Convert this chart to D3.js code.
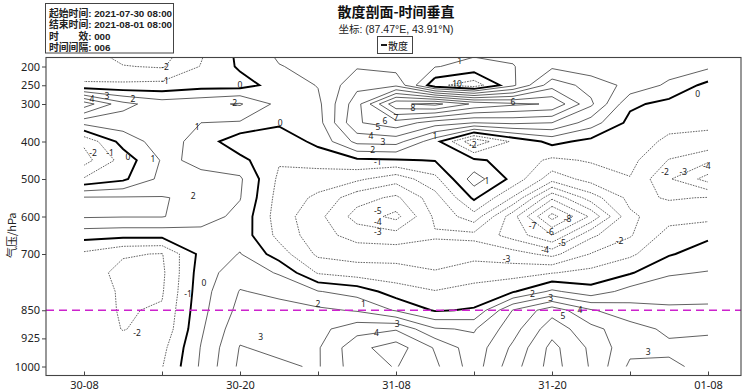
<!DOCTYPE html>
<html><head><meta charset="utf-8">
<script src="https://cdn.jsdelivr.net/npm/d3@7"></script>
<style>body{margin:0;background:#fff}svg{display:block}</style>
</head><body>
<svg id="chart" width="744" height="392"></svg>
<script>
// ---------------- DATA ----------------
// grid columns: hours after 2021-07-30 08:00 (every 3 h)
const hours = [0,3,6,9,12,15,18,21,24,27,30,33,36,39,42,45,48];
// grid rows: pressure levels (hPa)
const levels = [150,200,250,300,350,400,450,500,550,600,650,700,750,800,850,900,950,1000];
// divergence values per level (1e-5 s^-1), one value per column
const d150  = [-1.8,-2.6,-2.7,-1.2,0.3,1.3,1.5,1.7,1.6,1.5,1.3,1.3,0.8,1.0,2.0,2.2,2.2];
const d200  = [-1.4,-1.95,-2.1,-0.95,0.15,0.95,1.3,1.9,1.6,1.05,0.7,0.95,1.8,1.4,1.6,1.5,1.2];
const d250  = [-0.9,-0.8,-0.7,-0.4,-0.4,0.4,1.05,2.7,2.8,-0.7,-1.6,0.8,3.6,2.6,1.7,0.8,-0.3];
const d300  = [4.6,2.3,1.5,1.7,2.1,0.7,0.75,3.6,7.8,8.3,6.8,6.2,5.9,3.2,0.2,-0.3,-0.3];
const d350  = [1.3,1.5,1.8,1.0,0.9,0.15,0.6,3.9,4.6,3.5,3.0,3.2,3.0,1.5,-0.3,-0.7,-0.8];
const d400  = [-1.8,0.4,1.5,0.6,-0.7,-0.6,0.25,2.3,2.4,0.4,-2.8,-0.8,0.3,-0.3,-0.5,-1.2,-1.3];
const d450  = [-2.4,-0.6,1.1,0.9,0.3,-0.9,-0.6,-0.2,-0.1,0.05,0.2,-0.4,-1.2,-0.9,-0.7,-2.05,-2.8];
const d500  = [-0.9,-0.2,1.3,1.1,1.15,-1.2,-1.5,-1.8,-2.6,-1.3,1.5,-0.3,-2.6,-1.6,-1.05,-2.9,-4.4];
const d550  = [2.1,2.1,2.05,1.8,1.05,-1.4,-2.2,-3.6,-4.2,-2.4,0.2,-2.1,-5.8,-3.5,-1.7,-2.1,-1.95];
const d600  = [2.1,2.05,2.05,1.5,0.7,-1.5,-2.7,-4.4,-5.3,-2.8,-1.4,-4.6,-8.4,-5.8,-2.2,-1.4,-1.3];
const d650  = [0.4,0.3,0.3,0.6,0.6,-1.3,-2.6,-3.4,-3.6,-3.1,-3.3,-4.4,-6.0,-3.2,-2.1,-0.6,-0.2];
const d700  = [-1.2,-1.9,-2.05,0.3,1.05,-0.5,-2.2,-2.4,-2.4,-2.6,-2.3,-2.6,-3.3,-1.95,-1.2,-0.1,0.5];
const d750  = [-1.5,-2.3,-2.2,0.5,1.6,0.9,-1.1,-1.5,-1.6,-1.9,-1.5,-1.4,-1.05,-0.7,-0.1,0.9,1.05];
const d800  = [-1.6,-2.1,-2.1,0.6,2.05,1.8,1.05,0.6,-0.5,-0.95,-0.6,-0.1,1.2,0.4,1.4,1.5,1.6];
const d850  = [-1.6,-2.08,-1.9,0.7,2.3,2.3,2.2,1.9,0.9,-0.1,0.1,3.05,4.6,3.1,2.4,2.2,2.2];
const d900  = [-1.5,-2.03,-1.75,0.85,2.7,2.6,2.7,3.6,3.9,2.1,1.9,3.6,5.6,4.3,3.4,2.8,2.9];
const d950  = [-1.4,-1.7,-1.3,1.05,3.05,2.8,2.9,4.7,5.5,3.9,2.4,4.2,6.3,4.8,3.3,3.2,3.2];
const d1000 = [-1.4,-1.5,-1.05,1.15,3.2,3.15,2.9,4.6,5.05,4.2,2.5,4.6,6.4,4.9,2.8,2.8,3.3];
const grid = [d150,d200,d250,d300,d350,d400,d450,d500,d550,d600,d650,d700,d750,d800,d850,d900,d950,d1000];

// axis ticks
const xTickHours  = [0,6,12,18,24,30,36,42,48];
const xTickLabels = ["30-08","","30-20","","31-08","","31-20","","01-08"];
const yTickLevels = [200,250,300,400,500,600,700,850,925,1000];
const refLevel = 850;

// contour labels: [hour, hPa, text]
const labelHours = [6.23,6.23,12,0.62,1.77,3.77,11.6,15.1,8.7,0.69,2.0,3.38,5.3,8.4,9.23,8.0,4.08,13.6,18,21.5,24.1,22.5,22.6,
  25.3,24,23.15,22.62,22.08,23.0,22.2,27,33,28.7,28.9,29.9,31,22.6,22.6,22.6,37.2,34.5,35.85,36.77,35.46,32.5,41.2,34.5,35.9,38.15,36.85,43.4,44.7,46.1,47.9,47.2];
const labelLevels = [201,236,247,284,276,284,297,348,361,428,428,441,444,545,775,804,908,919,831,831,884,908,452,
  308,335,345,359,385,399,421,383,292,244,183,409,503,583,612,640,604,625,641,668,689,711,663,804,815,849,865,959,481,481,463,273];
const labelTexts = ["-2","-1","0","4","3","2","2","0","1","-2","-1","0","1","2","0","-1","-2","3","2","1","3","4","-1",
  "8","7","6","5","4","3","2","1","6","10","1","-2","1","-5","-4","-3","-8","-7","-6","-5","-4","-3","-2","2","3","4","5","3","-2","-3","-4","0"];

// ---------------- DRAW ----------------
const svg = d3.select("#chart");
const plot = {left:46, right:741, top:57.5, bottom:375.5};

const x = d3.scaleLinear().domain([-38/13, 48 + 33/13]).range([plot.left, plot.right]);
const y = d3.scaleLinear().domain([176, 1024]).range([plot.top, plot.bottom]);
const colToHour = d3.scaleLinear().domain([0, hours.length-1]).range([hours[0], hours[hours.length-1]]);
const rowToLevel = d3.scaleLinear().domain([0, levels.length-1]).range([levels[0], levels[levels.length-1]]);

svg.append("defs").append("clipPath").attr("id","clip")
  .append("rect").attr("x",plot.left).attr("y",plot.top)
  .attr("width",plot.right-plot.left).attr("height",plot.bottom-plot.top);

// marching squares -> polylines
function isolines(g, t) {
  const ny = g.length, nx = g[0].length;
  const pts = new Map(), segs = [];
  const inside = v => v >= t;
  function edge(i0,j0,i1,j1){
    const k = i0+","+j0+","+i1+","+j1;
    if(!pts.has(k)){
      const a = g[j0][i0], b = g[j1][i1], f = (t-a)/(b-a);
      pts.set(k,[i0+(i1-i0)*f, j0+(j1-j0)*f]);
    }
    return k;
  }
  for(let j=0;j<ny-1;j++) for(let i=0;i<nx-1;i++){
    const v00=g[j][i], v10=g[j][i+1], v01=g[j+1][i], v11=g[j+1][i+1];
    const b00=inside(v00), b10=inside(v10), b01=inside(v01), b11=inside(v11);
    const E = {};
    if(b00!==b10) E.top = edge(i,j,i+1,j);
    if(b10!==b11) E.right = edge(i+1,j,i+1,j+1);
    if(b01!==b11) E.bottom = edge(i,j+1,i+1,j+1);
    if(b00!==b01) E.left = edge(i,j,i,j+1);
    const ks = Object.keys(E);
    if(ks.length===2) segs.push([E[ks[0]],E[ks[1]]]);
    else if(ks.length===4){
      const c = inside((v00+v10+v01+v11)/4);
      if(c===b00){ segs.push([E.top,E.right]); segs.push([E.left,E.bottom]); }
      else { segs.push([E.top,E.left]); segs.push([E.right,E.bottom]); }
    }
  }
  const adj = new Map();
  segs.forEach((s,idx)=>s.forEach(k=>{ if(!adj.has(k)) adj.set(k,[]); adj.get(k).push(idx); }));
  const used = new Array(segs.length).fill(false);
  const lines = [];
  function walk(idx,k){
    const line=[pts.get(k)];
    while(idx!==undefined && !used[idx]){
      used[idx]=true;
      const s=segs[idx]; const nk = s[0]===k ? s[1] : s[0];
      line.push(pts.get(nk)); k=nk;
      idx = adj.get(k).find(q=>!used[q]);
    }
    return line;
  }
  for(const [k,list] of adj) if(list.length===1 && !used[list[0]]) lines.push(walk(list[0],k));
  segs.forEach((s,idx)=>{ if(!used[idx]) lines.push(walk(idx,s[0])); });
  return lines;
}

const allVals = grid.flat();
const thresholds = d3.range(Math.ceil(d3.min(allVals)), Math.floor(d3.max(allVals))+1);
const lineGen = d3.line().x(p=>x(colToHour(p[0]))).y(p=>y(rowToLevel(p[1])));

const gC = svg.append("g").attr("clip-path","url(#clip)");
thresholds.forEach(t=>{
  isolines(grid,t).forEach(l=>{
    const p = gC.append("path").attr("d",lineGen(l)).attr("fill","none");
    if(t<0) p.attr("stroke","#555").attr("stroke-width",0.9).attr("stroke-dasharray","1.6,1.1");
    else if(t===0) p.attr("stroke","#000").attr("stroke-width",1.9);
    else p.attr("stroke","#444").attr("stroke-width",0.85);
  });
});

// 850 hPa reference line
svg.append("line").attr("x1",plot.left).attr("x2",plot.right)
  .attr("y1",y(refLevel)).attr("y2",y(refLevel))
  .attr("stroke","#CC22CC").attr("stroke-width",1.3).attr("stroke-dasharray","8,5");

// contour labels
const gL = svg.append("g").attr("font-family","Noto Sans, DejaVu Sans, sans-serif").attr("font-size",8.5).attr("fill","#222")
  .attr("text-anchor","middle").attr("dominant-baseline","central");
labelTexts.forEach((txt,i)=>{
  gL.append("text").attr("x",x(labelHours[i])).attr("y",y(labelLevels[i])).text(txt);
});

// frame
svg.append("rect").attr("x",plot.left).attr("y",plot.top)
  .attr("width",plot.right-plot.left).attr("height",plot.bottom-plot.top)
  .attr("fill","none").attr("stroke","#444").attr("stroke-width",1.1);

// axes
const font = "Noto Sans, DejaVu Sans, sans-serif";
const yAxis = svg.append("g").attr("transform",`translate(${plot.left},0)`)
  .call(d3.axisLeft(y).tickValues(yTickLevels).tickSize(4).tickPadding(2).tickFormat(d3.format("d")));
yAxis.select(".domain").remove();
yAxis.selectAll("text").attr("font-family",font).attr("font-size",11).attr("fill","#222");
yAxis.selectAll("line").attr("stroke","#444");

const xAxis = svg.append("g").attr("transform",`translate(0,${plot.bottom})`)
  .call(d3.axisBottom(x).tickValues(xTickHours).tickSize(-4).tickPadding(6).tickFormat((d,i)=>xTickLabels[i]));
xAxis.select(".domain").remove();
xAxis.selectAll("text").attr("font-family",font).attr("font-size",11).attr("fill","#222");
xAxis.selectAll("line").attr("stroke","#444");

// y axis title
svg.append("text").attr("transform",`translate(11,${(y(600)+y(700))/2}) rotate(-90)`)
  .attr("text-anchor","middle").attr("dominant-baseline","central")
  .attr("font-family","Noto Sans CJK SC, Noto Sans, sans-serif").attr("font-size",11).attr("fill","#222").text("气压/hPa");

// title
const cx = 396;
svg.append("text").attr("x",cx).attr("y",11).attr("text-anchor","middle").attr("dominant-baseline","central")
  .attr("font-family","Noto Sans CJK SC, sans-serif").attr("font-size",14).attr("font-weight","bold").attr("fill","#111")
  .text("散度剖面-时间垂直");
svg.append("text").attr("x",cx).attr("y",28.5).attr("text-anchor","middle").attr("dominant-baseline","central")
  .attr("font-family","Liberation Sans, Noto Sans CJK SC, sans-serif").attr("font-size",10.5).attr("fill","#222")
  .text("坐标: (87.47°E, 43.91°N)");
// legend
svg.append("rect").attr("x",377.5).attr("y",36.5).attr("width",35).attr("height",17)
  .attr("fill","#fff").attr("stroke","#444").attr("stroke-width",1);
svg.append("line").attr("x1",381).attr("x2",387).attr("y1",45).attr("y2",45).attr("stroke","#000").attr("stroke-width",1.8);
svg.append("text").attr("x",388).attr("y",45).attr("dominant-baseline","central")
  .attr("font-family","Noto Sans CJK SC, sans-serif").attr("font-size",10).attr("fill","#111").text("散度");

// info box
svg.append("rect").attr("x",45.5).attr("y",3.5).attr("width",128).attr("height",49.5)
  .attr("fill","#fff").attr("stroke","#444").attr("stroke-width",1);
const info = ["起始时间: 2021-07-30 08:00","结束时间: 2021-08-01 08:00","时　　效: 000","时间间隔: 006"];
info.forEach((s,i)=>{
  svg.append("text").attr("x",49).attr("y",13+i*11.6).attr("dominant-baseline","central")
    .attr("font-family","Liberation Sans, Noto Sans CJK SC, sans-serif").attr("font-size",9.8).attr("font-weight","bold").attr("fill","#222").text(s);
});
</script>
</body></html>
